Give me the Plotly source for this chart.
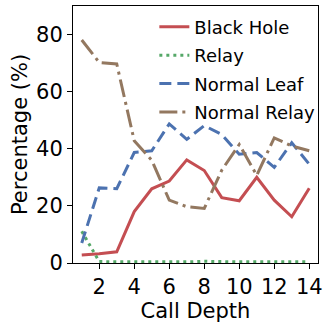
import plotly.graph_objects as go

depth = list(range(1, 15))
black_hole = [2.8, 3.2, 3.9, 18.0, 26.0, 28.7, 36.1, 32.4, 22.9, 21.8, 30.0, 22.0, 16.2, 26.2]
relay = [11.1, 0.5, 0.4, 0.4, 0.3, 0.4, 0.4, 0.6, 0.4, 0.4, 0.4, 0.4, 0.4, 0.4]
normal_leaf = [7.0, 26.3, 26.0, 38.7, 39.3, 48.7, 43.3, 48.1, 45.0, 38.1, 38.7, 33.5, 42.1, 34.6]
normal_relay = [78.1, 70.2, 69.7, 42.8, 36.0, 22.0, 19.7, 19.1, 32.5, 41.5, 30.7, 43.8, 41.0, 39.3]

series = [
    ("Black Hole", black_hole, "#C44E52", "solid"),
    ("Relay", relay, "#55A868", "3px,4px"),
    ("Normal Leaf", normal_leaf, "#4C72B0", "12px,6px"),
    ("Normal Relay", normal_relay, "#937860", "18px,5px,3px,5px"),
]

fig = go.Figure()
for name, vals, color, dash in series:
    fig.add_trace(go.Scatter(x=depth, y=vals, mode="lines", name=name, legendgroup=name,
                             line=dict(color=color, width=3, dash=dash)))

font = "DejaVu Sans"
fig.update_layout(
    width=327, height=323,
    margin=dict(l=73, r=5, t=6, b=56),
    plot_bgcolor="white", paper_bgcolor="white",
    font=dict(family=font, color="black"),
    showlegend=True,
    legend=dict(x=0.332, y=0.99, xanchor="left", yanchor="top",
                bgcolor="rgba(255,255,255,0)", font=dict(size=18, family=font),
                tracegroupgap=2),
    xaxis=dict(range=[0.5, 14.5], tickvals=[2, 4, 6, 8, 10, 12, 14],
               ticks="outside", ticklen=5, tickcolor="black",
               showline=True, linecolor="black", linewidth=1, mirror=True,
               showgrid=False, zeroline=False,
               tickfont=dict(size=21, family=font),
               title=dict(text="Call Depth", font=dict(size=21, family=font), standoff=4)),
    yaxis=dict(range=[0, 90], tickvals=[0, 20, 40, 60, 80],
               ticks="outside", ticklen=5, tickcolor="black",
               showline=True, linecolor="black", linewidth=1, mirror=True,
               showgrid=False, zeroline=False,
               tickfont=dict(size=21, family=font),
               title=dict(text="Percentage (%)", font=dict(size=21, family=font), standoff=2)),
)

fig.write_html("out.html", config={"displayModeBar": False},
               post_script="document.body.style.margin='0';document.body.style.overflow='hidden';")
